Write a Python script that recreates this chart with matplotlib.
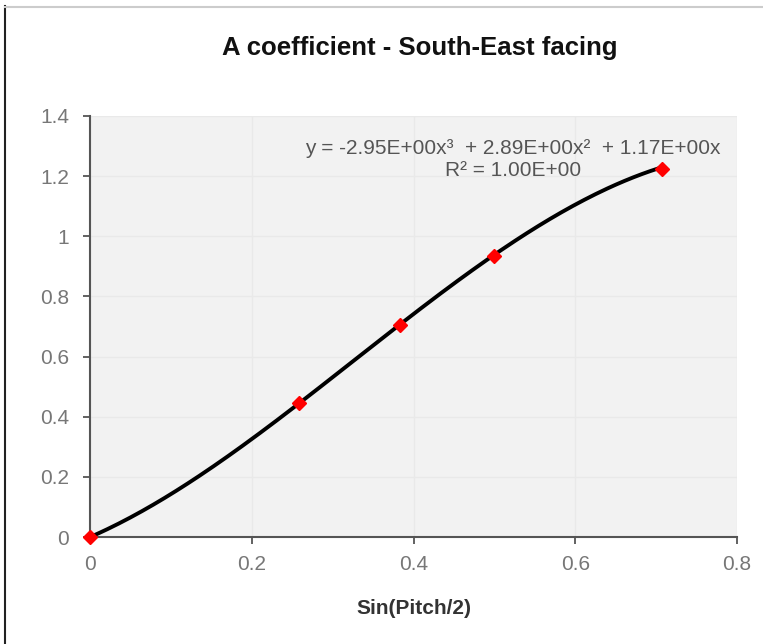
import numpy as np
import matplotlib.pyplot as plt
from matplotlib.lines import Line2D

# data points
sin_half_pitch = [0.0, 0.2588, 0.3827, 0.5, 0.7071]
a_coef         = [0.0, 0.445, 0.705, 0.935, 1.225]

# trendline coefficients shown on chart (x^3, x^2, x, const)
poly_coefs = [-2.95, 2.89, 1.17, 0.0]
eq_text = 'y = -2.95E+00x³  + 2.89E+00x²  + 1.17E+00x\nR² = 1.00E+00'

xticks = [0, 0.2, 0.4, 0.6, 0.8]
yticks = [0, 0.2, 0.4, 0.6, 0.8, 1, 1.2, 1.4]

plt.rcParams.update({'font.family': ['Liberation Sans', 'DejaVu Sans'],
                     'font.size': 15})

fig = plt.figure(figsize=(7.63, 6.44), dpi=100)
ax = fig.add_axes([0.118, 0.166, 0.848, 0.654])
ax.set_facecolor('#f2f2f2')

# faint grid
ax.grid(True, color='#e9e9e9', linewidth=1)
ax.set_axisbelow(True)

# trendline
xs = np.linspace(sin_half_pitch[0], sin_half_pitch[-1], 200)
ax.plot(xs, np.polyval(poly_coefs, xs), color='black', lw=2.8, zorder=3)
ax.plot(sin_half_pitch, a_coef, ls='none', marker='D', ms=7.5,
        color='#ff0000', zorder=4, clip_on=False)

ax.set_xlim(0, 0.8)
ax.set_ylim(0, 1.4)
ax.set_xticks(xticks)
ax.set_xticklabels([f'{t:g}' for t in xticks])
ax.set_yticks(yticks)
ax.set_yticklabels([f'{t:g}' for t in yticks])

for s in ['top', 'right']:
    ax.spines[s].set_visible(False)
for s in ['left', 'bottom']:
    ax.spines[s].set_color('#555555')
    ax.spines[s].set_linewidth(1.5)
ax.tick_params(colors='#555555', labelcolor='#777777', labelsize=15,
               length=5, width=1.3, direction='out')
ax.tick_params(axis='x', pad=8)
ax.tick_params(axis='y', pad=10)

ax.text(0.523, 1.254, eq_text, ha='center', va='center', fontsize=15,
        color='#555555', linespacing=1.2)

ax.set_xlabel('Sin(Pitch/2)', fontsize=15, fontweight='bold',
              color='#333333', labelpad=18)
fig.text(0.55, 0.925, 'A coefficient - South-East facing', ha='center',
         va='center', fontsize=18.5, fontweight='bold', color='#111111')

# chart frame lines
fig.add_artist(Line2D([0.007, 0.007], [0.0, 0.99], color='#222222', lw=1.5))
fig.add_artist(Line2D([0.007, 1.0], [0.989, 0.989], color='#cccccc', lw=1.5))

fig.savefig('out.png', dpi=100)
